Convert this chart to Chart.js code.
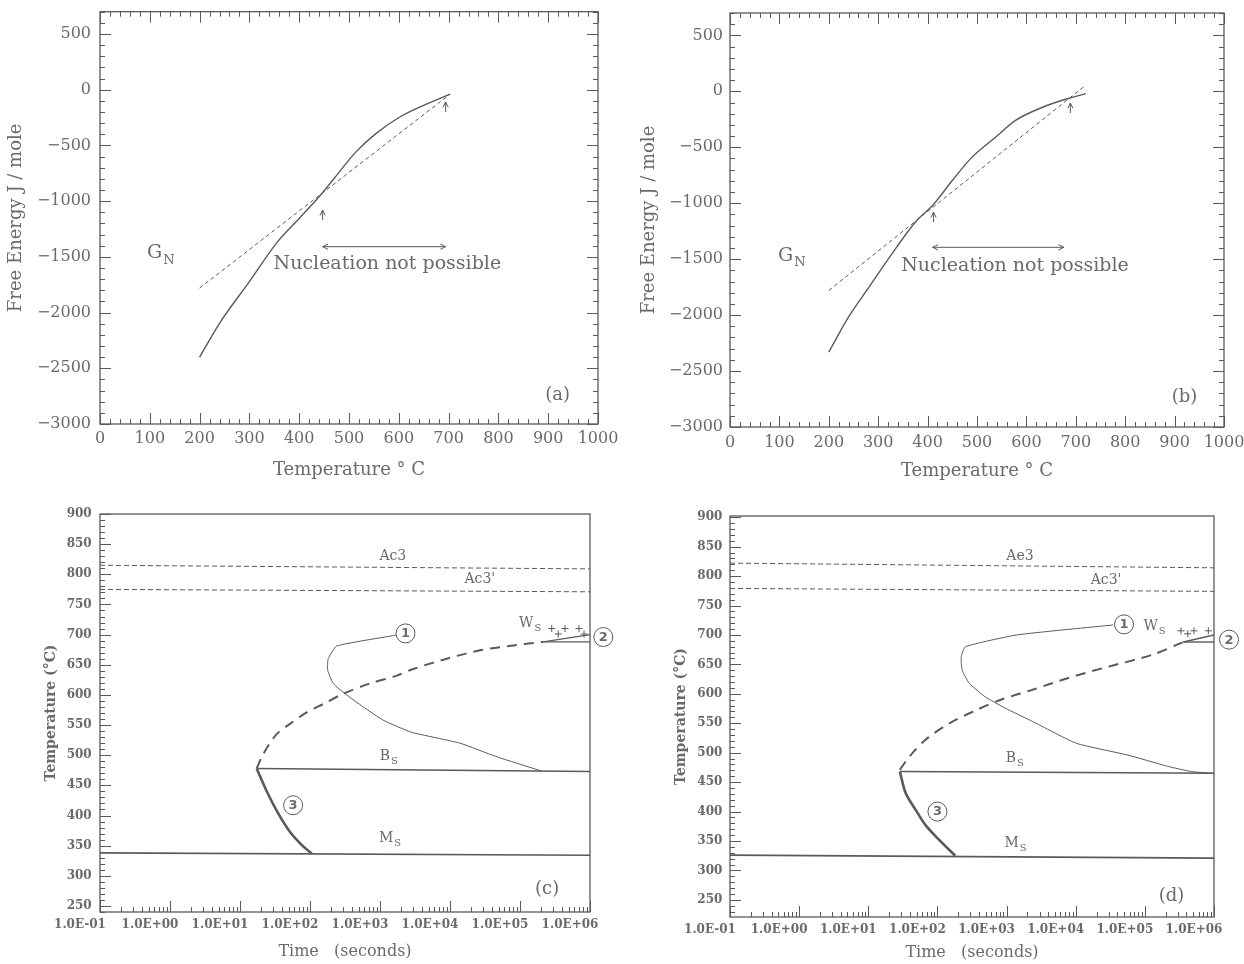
<!DOCTYPE html>
<html>
<head>
<meta charset="utf-8">
<title>Free energy and TTT diagrams</title>
<script src="https://cdn.jsdelivr.net/npm/chart.js@4.4.1/dist/chart.umd.min.js"></script>
<style>
  html, body { margin: 0; padding: 0; background: #fff; }
  body { width: 1244px; height: 964px; position: relative; overflow: hidden; }
  .panel { position: absolute; }
</style>
</head>
<body>
<div class="panel" style="left:0;top:0;width:620px;height:490px"><canvas id="panelA"></canvas></div>
<div class="panel" style="left:620px;top:0;width:624px;height:490px"><canvas id="panelB"></canvas></div>
<div class="panel" style="left:0;top:494px;width:620px;height:470px"><canvas id="panelC"></canvas></div>
<div class="panel" style="left:620px;top:494px;width:624px;height:470px"><canvas id="panelD"></canvas></div>
<script>
// ---- (a) and (b): free energy against temperature ----
const tempTicks = [0, 100, 200, 300, 400, 500, 600, 700, 800, 900, 1000];
const energyTicks = [-3000, -2500, -2000, -1500, -1000, -500, 0, 500];

const tempA = [200, 241, 300, 354, 400, 440, 470, 514, 554, 602, 650, 703];
const gibbsA = [-2400, -2090, -1722, -1379, -1155, -961, -797, -558, -394, -245, -140, -40];
const tempNA = [200, 703];
const gnA = [-1780, -40];

const tempB = [200, 241, 281, 337, 378, 410, 450, 490, 538, 578, 634, 683, 720];
const gibbsB = [-2330, -2010, -1752, -1394, -1155, -1020, -797, -588, -409, -260, -140, -66, -21];
const tempNB = [200, 720];
const gnB = [-1780, 55];

// ---- (c) and (d): time-temperature diagrams ----
const timeTicks = [0.1, 1, 10, 100, 1e3, 1e4, 1e5, 1e6];
const timeLabels = ['1.0E-01', '1.0E+00', '1.0E+01', '1.0E+02', '1.0E+03', '1.0E+04', '1.0E+05', '1.0E+06'];
const degTicks = [250, 300, 350, 400, 450, 500, 550, 600, 650, 700, 750, 800, 850, 900];
const ends = [0.1, 1e6];

const ac3C = [815, 809];
const ac3pC = [775, 771];
const msC = [338, 334];
const bsTimeC = [17.3, 1e6];
const bsC = [478, 473];
const c3TimeC = [17.3, 23.7, 35, 51.6, 76.4, 106];
const c3C = [478, 442, 404, 373, 351, 337];
const wsTimeC = [17.3, 21.5, 33.4, 51.8, 89.7, 155, 299, 720, 1733, 2990, 8970, 26800, 80200, 215000];
const wsC = [478, 502, 535, 552, 571, 585, 602, 619, 632, 643, 660, 674, 682, 688];
const c1TimeC = [1675, 240, 182, 179, 215, 316, 578, 1114, 2830, 13900, 45000, 200000];
const c1C = [699, 681, 660, 641, 619, 602, 580, 558, 538, 520, 498, 474];
const c2TimeC = [215000, 1e6];
const c2UpC = [688, 700];
const c2LowC = [688, 688];
const plusTimeC = [284000, 352000, 440000, 697000, 822000];
const plusC = [710, 701, 710, 710, 701];

const ae3D = [822, 814];
const ac3pD = [779, 774];
const msD = [326, 321];
const bsTimeD = [28.6, 1e6];
const bsD = [468, 465];
const c3TimeD = [28.6, 34.8, 48.4, 67.3, 100, 181];
const c3D = [468, 431, 403, 377, 355, 325];
const wsTimeD = [28.6, 39.7, 67.3, 149, 375, 829, 2385, 7830, 29300, 125600, 360000];
const wsD = [471, 494, 522, 550, 573, 590, 607, 627, 646, 666, 688];
const c1TimeD = [35000, 1406, 253, 221, 227, 288, 489, 946, 2380, 10200, 56700, 213000, 470000, 1e6];
const c1D = [717, 700, 680, 663, 641, 618, 595, 576, 553, 516, 496, 477, 468, 465];
const c2TimeD = [360000, 1e6];
const c2UpD = [688, 700];
const c2LowD = [688, 688];
const plusTimeD = [333000, 417000, 514000, 828000];
const plusD = [707, 702, 707, 707];

// annotations, in data units
const notesA = {
  arrows: [[447, -1170, 447, -1080, false], [694, -200, 694, -110, false], [447, -1409, 694, -1409, true]],
  labels: [{ x: 577, y: -1567, text: 'Nucleation not possible' }, { x: 122, y: -1470, text: 'G', sub: 'N' }],
  tag: { x: 919, y: -2746, text: '(a)' }
};
const notesB = {
  arrows: [[412, -1170, 412, -1080, false], [689, -194, 689, -104, false], [410, -1394, 676, -1394, true]],
  labels: [{ x: 577, y: -1558, text: 'Nucleation not possible' }, { x: 125, y: -1474, text: 'G', sub: 'N' }],
  tag: { x: 920, y: -2736, text: '(b)' }
};
const notesC = {
  labels: [{ x: 1524, y: 830, text: 'Ac3' }, { x: 26700, y: 791, text: "Ac3'" },
           { x: 1340, y: 498, text: 'B', sub: 'S' }, { x: 1390, y: 362, text: 'M', sub: 'S' },
           { x: 140000, y: 719, text: 'W', sub: 'S' }],
  circles: [['1', 2312, 702], ['2', 1.55e6, 696], ['3', 57.4, 417]],
  tag: { x: 244000, y: 277, text: '(c)' }
};
const notesD = {
  labels: [{ x: 1563, y: 834, text: 'Ae3' }, { x: 27500, y: 792, text: "Ac3'" },
           { x: 1315, y: 491, text: 'B', sub: 'S' }, { x: 1350, y: 346, text: 'M', sub: 'S' },
           { x: 138000, y: 714, text: 'W', sub: 'S' }],
  circles: [['1', 50000, 718], ['2', 1.65e6, 692], ['3', 100, 400]],
  tag: { x: 243000, y: 256, text: '(d)' }
};

Chart.defaults.font.family = "'DejaVu Serif', serif";
Chart.defaults.animation = false;
Chart.defaults.plugins.legend.display = false;
Chart.defaults.plugins.tooltip.enabled = false;

const INK = '#5a5a5a';
const TEXT = '#6a6a6a';
const SERIF = "'DejaVu Serif', serif";

const pts = (xs, ys) => xs.map((v, i) => ({ x: v, y: ys[i] }));
const minus = v => v < 0 ? '\u2212' + Math.abs(v) : String(v);

// the label overhang padding would shrink the plot box, so drop it
const noPad = s => { s.paddingLeft = 0; s.paddingRight = 0; s.paddingTop = 0; s.paddingBottom = 0; };

function minorValues(scale, step) {
  const out = [];
  if (scale.type === 'logarithmic') {
    for (let d = scale.min; d < scale.max * 0.999; d *= 10)
      for (let k = 2; k < 10; k++) out.push(d * k);
  } else {
    for (let v = Math.ceil(scale.min / step) * step; v <= scale.max; v += step) out.push(v);
  }
  return out;
}

// box round the plot, with inward tick marks
function framePlugin(cfg) {
  return {
    id: 'frame',
    afterDatasetsDraw(chart) {
      const { ctx, chartArea: a, scales } = chart;
      ctx.save();
      ctx.strokeStyle = INK;
      ctx.lineWidth = 1.3;
      ctx.strokeRect(a.left, a.top, a.right - a.left, a.bottom - a.top);
      ctx.lineWidth = 1;
      const mark = (scale, v, len) => {
        const p = Math.round(scale.getPixelForValue(v)) + 0.5;
        ctx.beginPath();
        if (scale.isHorizontal()) {
          ctx.moveTo(p, a.bottom); ctx.lineTo(p, a.bottom - len);
          if (cfg.mirror) { ctx.moveTo(p, a.top); ctx.lineTo(p, a.top + len); }
        } else {
          ctx.moveTo(a.left, p); ctx.lineTo(a.left + len, p);
          if (cfg.mirror) { ctx.moveTo(a.right, p); ctx.lineTo(a.right - len, p); }
        }
        ctx.stroke();
      };
      ['x', 'y'].forEach(id => {
        const s = scales[id];
        minorValues(s, cfg.minor[id]).forEach(v => mark(s, v, 5));
        s.ticks.forEach(t => mark(s, t.value, 11));
      });
      ctx.restore();
    }
  };
}

function head(ctx, from, to) {
  const ang = Math.atan2(to[1] - from[1], to[0] - from[0]);
  const L = 6;
  ctx.beginPath();
  ctx.moveTo(to[0] - L * Math.cos(ang - 0.45), to[1] - L * Math.sin(ang - 0.45));
  ctx.lineTo(to[0], to[1]);
  ctx.lineTo(to[0] - L * Math.cos(ang + 0.45), to[1] - L * Math.sin(ang + 0.45));
  ctx.stroke();
}

// text, arrows and circled numbers placed with the chart's own scales
function notesPlugin(marks, size, tagSize) {
  return {
    id: 'notes',
    afterDatasetsDraw(chart) {
      const { ctx, scales: { x, y } } = chart;
      ctx.save();
      ctx.strokeStyle = INK;
      ctx.fillStyle = TEXT;
      ctx.lineWidth = 1;
      (marks.arrows || []).forEach(([x1, y1, x2, y2, both]) => {
        const p = [x.getPixelForValue(x1), y.getPixelForValue(y1)];
        const q = [x.getPixelForValue(x2), y.getPixelForValue(y2)];
        ctx.beginPath(); ctx.moveTo(p[0], p[1]); ctx.lineTo(q[0], q[1]); ctx.stroke();
        head(ctx, p, q);
        if (both) head(ctx, q, p);
      });
      ctx.textBaseline = 'middle';
      ctx.textAlign = 'left';
      (marks.labels || []).forEach(l => {
        const px = x.getPixelForValue(l.x), py = y.getPixelForValue(l.y);
        const sub = Math.round(size * 0.7);
        ctx.font = size + 'px ' + SERIF;
        const w1 = ctx.measureText(l.text).width;
        let w2 = 0;
        if (l.sub) { ctx.font = sub + 'px ' + SERIF; w2 = ctx.measureText(l.sub).width + 1; }
        const x0 = px - (w1 + w2) / 2;
        ctx.font = size + 'px ' + SERIF;
        ctx.fillText(l.text, x0, py);
        if (l.sub) { ctx.font = sub + 'px ' + SERIF; ctx.fillText(l.sub, x0 + w1 + 1, py + size * 0.35); }
      });
      (marks.circles || []).forEach(([n, cx, cy]) => {
        const px = x.getPixelForValue(cx), py = y.getPixelForValue(cy);
        ctx.beginPath(); ctx.arc(px, py, 9.5, 0, Math.PI * 2); ctx.stroke();
        ctx.font = "bold 13px 'DejaVu Sans', sans-serif";
        ctx.textAlign = 'center';
        ctx.fillText(n, px, py + 0.5);
        ctx.textAlign = 'left';
      });
      if (marks.tag) {
        ctx.font = tagSize + 'px ' + SERIF;
        ctx.textAlign = 'center';
        ctx.fillText(marks.tag.text, x.getPixelForValue(marks.tag.x), y.getPixelForValue(marks.tag.y));
      }
      ctx.restore();
    }
  };
}

function energyChart(id, g, solid, dashed, marks) {
  return new Chart(document.getElementById(id), {
    type: 'line',
    data: {
      datasets: [
        { data: solid, borderColor: INK, borderWidth: 1.4, pointRadius: 0, cubicInterpolationMode: 'monotone' },
        { data: dashed, borderColor: INK, borderWidth: 1, borderDash: [4, 3], pointRadius: 0 }
      ]
    },
    options: {
      responsive: true,
      maintainAspectRatio: false,
      layout: { padding: { left: 0, top: g.top, right: g.right, bottom: 0 } },
      scales: {
        x: {
          type: 'linear', min: 0, max: 1000,
          afterBuildTicks: s => { s.ticks = tempTicks.map(v => ({ value: v })); },
          afterFit: s => { s.height = g.xh; noPad(s); },
          grid: { display: false, drawTicks: false },
          border: { display: false },
          ticks: { color: TEXT, font: { size: 16 }, padding: g.xtp, maxRotation: 0, autoSkip: false, callback: v => String(v) },
          title: { display: true, text: 'Temperature \u00b0 C', color: TEXT, font: { size: 18 }, padding: { top: 0, bottom: g.xtb } }
        },
        y: {
          type: 'linear', min: -3000, max: 700,
          afterBuildTicks: s => { s.ticks = energyTicks.map(v => ({ value: v })); },
          afterFit: s => { s.width = g.yw; noPad(s); },
          grid: { display: false, drawTicks: false },
          border: { display: false },
          ticks: { color: TEXT, font: { size: 16 }, padding: g.ytp, callback: v => minus(v) },
          title: { display: true, text: 'Free Energy J / mole', color: TEXT, font: { size: 18 }, padding: { top: g.ytt, bottom: 0 } }
        }
      }
    },
    plugins: [framePlugin({ mirror: true, minor: { x: 20, y: 100 } }), notesPlugin(marks, 19, 18)]
  });
}

function tttChart(id, g, s, marks) {
  const line = (data, w, extra) => Object.assign({ data, borderColor: INK, borderWidth: w, pointRadius: 0 }, extra || {});
  return new Chart(document.getElementById(id), {
    type: 'line',
    data: {
      datasets: [
        line(pts(ends, s.ac3), 1, { borderDash: [5, 3] }),
        line(pts(ends, s.ac3p), 1, { borderDash: [5, 3] }),
        line(pts(ends, s.ms), 1.6),
        line(pts(s.bsTime, s.bs), 1.4),
        line(pts(s.c3Time, s.c3), 2.6, { tension: 0.3 }),
        line(pts(s.wsTime, s.ws), 2, { tension: 0.3, borderDash: [10, 7] }),
        line(pts(s.c1Time, s.c1), 1, { tension: 0.15 }),
        line(pts(s.c2Time, s.c2Up), 1.4),
        line(pts(s.c2Time, s.c2Low), 1.4),
        { data: pts(s.plusTime, s.plus), showLine: false, pointStyle: 'cross', pointRadius: 3.5, borderWidth: 1, borderColor: INK }
      ]
    },
    options: {
      responsive: true,
      maintainAspectRatio: false,
      layout: { padding: { left: 0, top: g.top, right: g.right, bottom: 0 } },
      scales: {
        x: {
          type: 'logarithmic', min: 0.1, max: 1e6,
          afterBuildTicks: sc => { sc.ticks = timeTicks.map(v => ({ value: v })); },
          afterFit: sc => { sc.height = g.xh; noPad(sc); },
          grid: { display: false, drawTicks: false },
          border: { display: false },
          ticks: { color: TEXT, font: { size: 12, weight: 'bold' }, padding: g.xtp, labelOffset: -20, maxRotation: 0, autoSkip: false, callback: (v, i) => timeLabels[i] },
          title: { display: true, text: 'Time   (seconds)', color: TEXT, font: { size: 16 }, padding: { top: 0, bottom: g.xtb } }
        },
        y: {
          type: 'linear', min: g.ymin, max: g.ymax,
          afterBuildTicks: sc => { sc.ticks = degTicks.map(v => ({ value: v })); },
          afterFit: sc => { sc.width = g.yw; noPad(sc); },
          grid: { display: false, drawTicks: false },
          border: { display: false },
          ticks: { color: TEXT, font: { size: 12, weight: 'bold' }, padding: g.ytp, callback: v => String(v) },
          title: { display: true, text: 'Temperature (\u00b0C)', color: TEXT, font: { size: 14, weight: 'bold' }, padding: { top: g.ytt, bottom: 0 } }
        }
      }
    },
    plugins: [framePlugin({ mirror: false, minor: { x: 0, y: 10 } }), notesPlugin(marks, 14, 18)]
  });
}

energyChart('panelA', { top: 11.7, right: 22, xh: 66, yw: 100, xtp: 5.4, xtb: 9.2, ytp: 9, ytt: 6 },
  pts(tempA, gibbsA), pts(tempNA, gnA), notesA);
energyChart('panelB', { top: 13, right: 20, xh: 63, yw: 110, xtp: 6.4, xtb: 7.5, ytp: 7, ytt: 19 },
  pts(tempB, gibbsB), pts(tempNB, gnB), notesB);

tttChart('panelC', { top: 20, right: 30, xh: 52, yw: 100, xtp: 5.8, xtb: 2.4, ytp: 8.3, ytt: 43.2, ymin: 240, ymax: 900 },
  { ac3: ac3C, ac3p: ac3pC, ms: msC, bsTime: bsTimeC, bs: bsC, c3Time: c3TimeC, c3: c3C,
    wsTime: wsTimeC, ws: wsC, c1Time: c1TimeC, c1: c1C, c2Time: c2TimeC, c2Up: c2UpC, c2Low: c2LowC,
    plusTime: plusTimeC, plus: plusC }, notesC);
tttChart('panelD', { top: 22, right: 30, xh: 47, yw: 110, xtp: 5.8, xtb: 1.4, ytp: 7.6, ytt: 53, ymin: 221, ymax: 902 },
  { ac3: ae3D, ac3p: ac3pD, ms: msD, bsTime: bsTimeD, bs: bsD, c3Time: c3TimeD, c3: c3D,
    wsTime: wsTimeD, ws: wsD, c1Time: c1TimeD, c1: c1D, c2Time: c2TimeD, c2Up: c2UpD, c2Low: c2LowD,
    plusTime: plusTimeD, plus: plusD }, notesD);
</script>
</body>
</html>
